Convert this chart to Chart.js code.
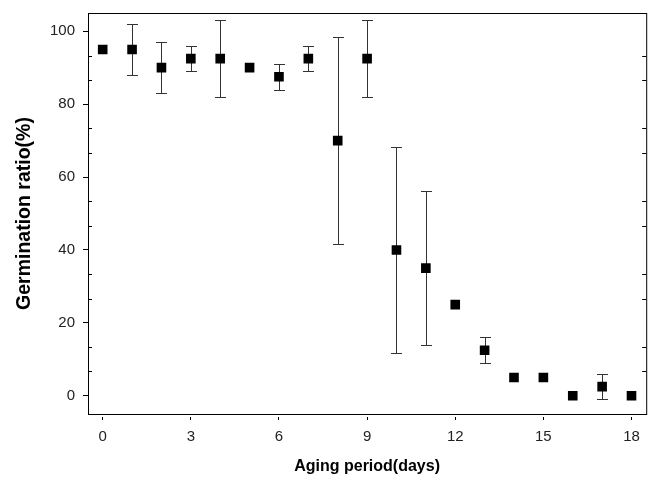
<!DOCTYPE html>
<html>
<head>
<meta charset="utf-8">
<title>Germination ratio</title>
<script src="https://cdn.jsdelivr.net/npm/chart.js@4"></script>
<style>
  body { margin: 0; background: #fff; }
  #wrap { width: 653px; height: 482px; }
</style>
</head>
<body>
<div id="wrap"><canvas id="myChart" width="653" height="482"></canvas></div>
<script>
const days = [0, 1, 2, 3, 4, 5, 6, 7, 8, 9, 10, 11, 12, 13, 14, 15, 16, 17, 18];
const ratio = [95, 95, 90, 92.5, 92.5, 90, 87.5, 92.5, 70, 92.5, 40, 35, 25, 12.5, 5, 5, 0, 2.5, 0];
const errs = [0, 7, 7, 3.5, 10.6, 0, 3.5, 3.5, 28.3, 10.6, 28.3, 21.2, 0, 3.5, 0, 0, 0, 3.5, 0];
const xTickVals = [0, 3, 6, 9, 12, 15, 18];
const yTickVals = [0, 20, 40, 60, 80, 100];
const yMinorVals = [6.67, 13.33, 26.67, 33.33, 46.67, 53.33, 66.67, 73.33, 86.67, 93.33];

const points = days.map((d, i) => ({ x: d, y: ratio[i] }));

// error bars, frame and the little inner ticks
const extras = {
  id: 'extras',
  beforeDatasetsDraw(chart) {
    const { ctx, scales: { x, y } } = chart;
    ctx.save();
    ctx.strokeStyle = '#333';
    ctx.lineWidth = 1;
    for (let i = 0; i < days.length; i += 1) {
      if (!errs[i]) continue;
      const px = Math.round(x.getPixelForValue(days[i])) + 0.5;
      const top = Math.round(y.getPixelForValue(ratio[i] + errs[i])) + 0.5;
      const bot = Math.round(y.getPixelForValue(ratio[i] - errs[i])) + 0.5;
      ctx.beginPath();
      ctx.moveTo(px, top);
      ctx.lineTo(px, bot);
      ctx.moveTo(px - 5.5, top);
      ctx.lineTo(px + 5.5, top);
      ctx.moveTo(px - 5.5, bot);
      ctx.lineTo(px + 5.5, bot);
      ctx.stroke();
    }
    ctx.restore();
  },
  afterDraw(chart) {
    const { ctx, chartArea: a, scales: { y } } = chart;
    ctx.save();
    ctx.strokeStyle = '#000';
    ctx.lineWidth = 1;
    ctx.strokeRect(a.left + 0.5, a.top + 0.5, a.right - a.left, a.bottom - a.top);
    ctx.beginPath();
    yMinorVals.forEach((v) => {
      const py = Math.round(y.getPixelForValue(v)) + 0.5;
      ctx.moveTo(a.left, py);
      ctx.lineTo(a.left + 4, py);
      ctx.moveTo(a.right, py);
      ctx.lineTo(a.right - 4, py);
    });
    ctx.stroke();
    ctx.restore();
  },
};

const tickFont = { family: 'Liberation Sans, Arial, sans-serif', size: 15 };

const ctx = document.getElementById('myChart').getContext('2d');
const chart = new Chart(ctx, {
  type: 'scatter',
  data: {
    datasets: [
      {
        label: 'Germination ratio',
        data: points,
        pointStyle: 'rect',
        pointRadius: 6.8,
        backgroundColor: '#000',
        borderColor: '#000',
        borderWidth: 0,
      },
    ],
  },
  options: {
    responsive: false,
    animation: false,
    layout: { padding: { top: 10, right: 5, left: 0, bottom: 0 } },
    plugins: { legend: { display: false }, tooltip: { enabled: false } },
    scales: {
      x: {
        type: 'linear',
        min: -0.5,
        max: 18.5,
        afterBuildTicks(scale) { scale.ticks = xTickVals.map((v) => ({ value: v })); },
        afterFit(scale) { scale.height = 68; },
        grid: { drawOnChartArea: false, color: '#000', tickLength: 6, tickBorderDash: [0, 2, 4, 40] },
        border: { display: true, color: '#000' },
        ticks: { color: '#222', font: tickFont, padding: 8, maxRotation: 0 },
        title: {
          display: true,
          text: 'Aging period(days)',
          color: '#000',
          font: { family: 'Liberation Sans, Arial, sans-serif', size: 16, weight: 'bold' },
          padding: { top: 0, bottom: 6 },
        },
      },
      y: {
        type: 'linear',
        min: -5,
        max: 105,
        afterBuildTicks(scale) { scale.ticks = yTickVals.map((v) => ({ value: v })); },
        afterFit(scale) { scale.width = 88; },
        grid: { drawOnChartArea: false, color: '#000', tickLength: 9, tickBorderDash: [0, 4, 5, 40] },
        border: { display: true, color: '#000' },
        ticks: { color: '#222', font: tickFont, padding: 4 },
        title: {
          display: true,
          text: 'Germination ratio(%)',
          color: '#000',
          font: { family: 'Liberation Sans, Arial, sans-serif', size: 19.5, weight: 'bold' },
          padding: { top: 13, bottom: 0 },
        },
      },
    },
  },
  plugins: [extras],
});
</script>
</body>
</html>
